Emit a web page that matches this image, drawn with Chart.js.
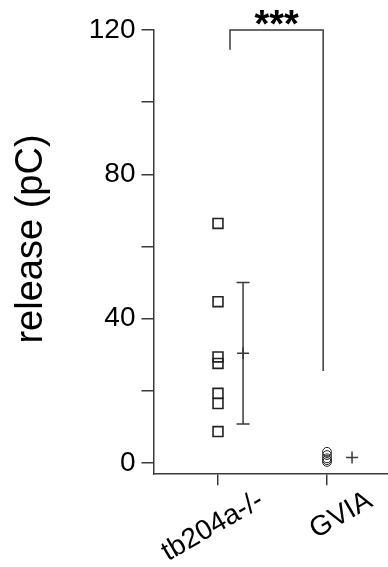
<!DOCTYPE html>
<html>
<head>
<meta charset="utf-8">
<script src="https://cdn.jsdelivr.net/npm/chart.js@4"></script>
<style>
  html, body { margin: 0; padding: 0; background: #fff; }
  #wrap { width: 388px; height: 567px; position: relative; }
</style>
</head>
<body>
<div id="wrap"><canvas id="c"></canvas></div>
<script>
// groups and their positions on the x scale
const groups = ['tb204a-/-', 'GVIA'];
const groupX = [1, 2];

// individual cells, release in pC
const knockoutRelease = [66.4, 44.7, 29.4, 27.6, 19.3, 16.5, 8.7];
const gviaRelease = [0.3, 0.8, 1.3, 2.2, 3.1];

// summary (mean +/- SD), drawn beside each group
const groupMean = [30.4, 1.5];
const groupSD = [19.6, 0];
const meanOffset = 0.23;

// y axis ticks
const yTicks = [0, 20, 40, 60, 80, 100, 120];
const yLabelled = [0, 40, 80, 120];

// significance bracket
const sigText = '***';
const sigSpan = [1.11, 1.965];
const sigTop = 120;
const sigLegs = [114.5, 25.5];

const FONT = 'Liberation Sans, Arial, Helvetica, sans-serif';
const INK = '#3a3a3a';

const overlay = {
  id: 'overlay',
  afterDatasetsDraw(chart) {
    const { ctx, scales: { x, y }, chartArea } = chart;
    ctx.save();
    ctx.strokeStyle = INK;
    ctx.lineWidth = 1.5;

    // error bars
    groupMean.forEach((m, i) => {
      const sd = groupSD[i];
      if (!sd) return;
      const px = x.getPixelForValue(groupX[i] + meanOffset);
      const top = y.getPixelForValue(m + sd);
      const bot = y.getPixelForValue(m - sd);
      ctx.beginPath();
      ctx.moveTo(px, top); ctx.lineTo(px, bot);
      ctx.moveTo(px - 6.5, top); ctx.lineTo(px + 6.5, top);
      ctx.moveTo(px - 6.5, bot); ctx.lineTo(px + 6.5, bot);
      ctx.stroke();
    });

    // bracket
    const bx0 = x.getPixelForValue(sigSpan[0]);
    const bx1 = x.getPixelForValue(sigSpan[1]);
    const by = y.getPixelForValue(sigTop);
    ctx.beginPath();
    ctx.moveTo(bx0, y.getPixelForValue(sigLegs[0]));
    ctx.lineTo(bx0, by);
    ctx.lineTo(bx1, by);
    ctx.lineTo(bx1, y.getPixelForValue(sigLegs[1]));
    ctx.stroke();

    ctx.fillStyle = '#000';
    ctx.font = 'bold 38px ' + FONT;
    ctx.textAlign = 'center';
    ctx.textBaseline = 'alphabetic';
    ctx.fillText(sigText, (bx0 + bx1) / 2, by + 7);

    // rotated category labels
    ctx.font = '28px ' + FONT;
    ctx.textAlign = 'right';
    groups.forEach((g, i) => {
      const px = x.getPixelForValue(groupX[i]);
      ctx.save();
      ctx.translate(px + 47, chartArea.bottom + 32);
      ctx.rotate(-Math.PI / 6);
      ctx.fillText(g, 0, 0);
      ctx.restore();
    });

    // y title
    ctx.font = '38px ' + FONT;
    ctx.textAlign = 'center';
    ctx.textBaseline = 'middle';
    ctx.translate(32, 239);
    ctx.rotate(-Math.PI / 2);
    ctx.fillText('release (pC)', 0, 0);
    ctx.restore();
  }
};

new Chart(document.getElementById('c'), {
  type: 'scatter',
  data: {
    datasets: [
      {
        data: knockoutRelease.map(v => ({ x: groupX[0], y: v })),
        pointStyle: 'rect',
        pointRadius: 7,
        pointBorderWidth: 1.6,
        borderColor: '#222',
        backgroundColor: 'rgba(0,0,0,0)'
      },
      {
        data: gviaRelease.map(v => ({ x: groupX[1], y: v })),
        pointStyle: 'circle',
        pointRadius: 4.4,
        pointBorderWidth: 1,
        borderColor: '#222',
        backgroundColor: 'rgba(0,0,0,0)'
      },
      {
        data: groupMean.map((m, i) => ({ x: groupX[i] + meanOffset, y: m })),
        pointStyle: 'cross',
        pointRadius: 6,
        pointBorderWidth: 1.5,
        borderColor: INK
      }
    ]
  },
  options: {
    responsive: true,
    maintainAspectRatio: false,
    animation: false,
    events: [],
    layout: { autoPadding: false, padding: { top: 30, right: 0, left: 0, bottom: 0 } },
    plugins: { legend: { display: false }, tooltip: { enabled: false } },
    scales: {
      x: {
        type: 'linear',
        min: 0.408,
        max: 2.56,
        afterBuildTicks: s => { s.ticks = groupX.map(v => ({ value: v })); },
        afterFit: s => { s.height = 93.7; },
        border: { color: INK, width: 1.5 },
        grid: { drawOnChartArea: false, drawTicks: true, tickLength: 12, color: INK, lineWidth: 1.5 },
        ticks: { display: false }
      },
      y: {
        min: -2.85,
        max: 120,
        afterBuildTicks: s => { s.ticks = yTicks.map(v => ({ value: v })); },
        afterFit: s => { s.width = 153.5; },
        border: { color: INK, width: 1.5 },
        grid: { drawOnChartArea: false, drawTicks: true, tickLength: 12, color: INK, lineWidth: 1.5 },
        ticks: {
          padding: 6,
          color: '#000',
          font: { family: FONT, size: 28 },
          callback: v => (yLabelled.includes(v) ? String(v) : '')
        }
      }
    }
  },
  plugins: [overlay]
});
</script>
</body>
</html>
